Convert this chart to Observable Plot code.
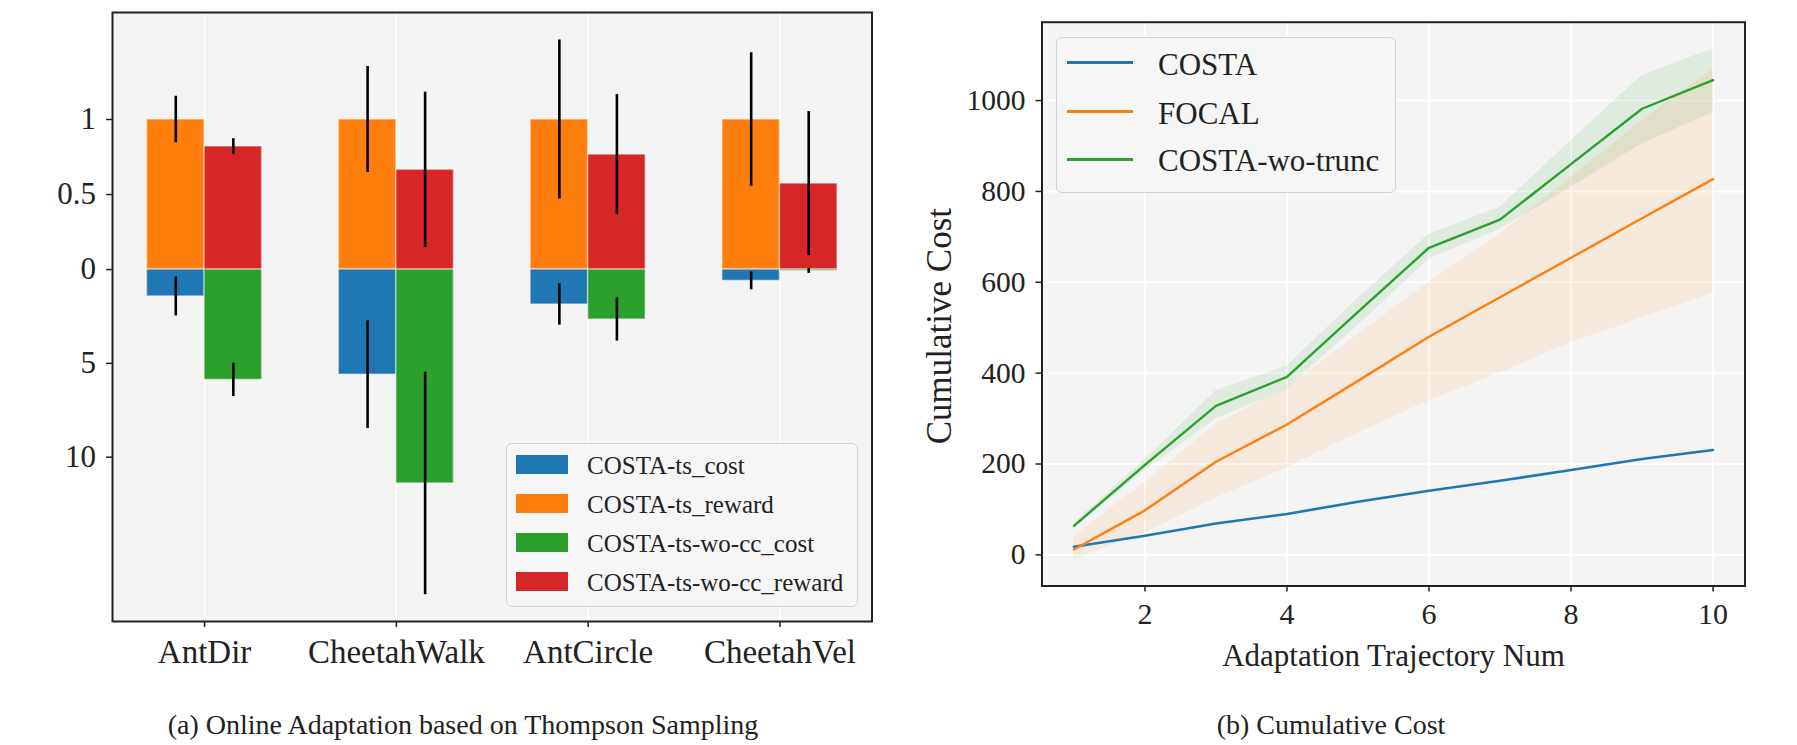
<!DOCTYPE html>
<html>
<head>
<meta charset="utf-8">
<script src="https://cdn.jsdelivr.net/npm/d3@7"></script>
<script src="https://cdn.jsdelivr.net/npm/@observablehq/plot@0.6"></script>
<style>
  html, body { margin: 0; padding: 0; background: #ffffff; }
  #root { position: relative; width: 1797px; height: 745px; overflow: hidden; background: #fff;
          font-family: "Liberation Serif", "Times New Roman", serif; color: #222; }
  .panel { position: absolute; top: 0; }
  .legend { position: absolute; box-sizing: border-box; border: 1.3px solid #d2d2d2; border-radius: 6px;
            background: rgba(246,246,246,0.85); }
  .lg-item { position: absolute; white-space: nowrap; font-family: "Liberation Serif", "Times New Roman", serif; }
  .caption { position: absolute; text-align: center; white-space: nowrap; font-size: 28px; color: #222;
             font-family: "Liberation Serif", "Times New Roman", serif; }
</style>
</head>
<body>
<div id="root"></div>
<script>
// ---------------- data: panel (a) ----------------
const categories = ["AntDir", "CheetahWalk", "AntCircle", "CheetahVel"];
const tsCost        = [1.43, 5.6, 1.86, 0.6];
const tsCostErr     = [1.04, 2.87, 1.1, 0.48];
const tsReward      = [1.0, 1.0, 1.0, 1.0];
const tsRewardErr   = [0.155, 0.353, 0.53, 0.445];
const wocCost       = [5.88, 11.4, 2.66, 0.07];
const wocCostErr    = [0.89, 5.93, 1.15, 0.13];
const wocReward     = [0.82, 0.665, 0.766, 0.573];
const wocRewardErr  = [0.052, 0.517, 0.4, 0.48];
const barSeries     = ["COSTA-ts_cost", "COSTA-ts_reward", "COSTA-ts-wo-cc_cost", "COSTA-ts-wo-cc_reward"];
const rewardTicks   = [0, 0.5, 1];
const costTicks     = [5, 10];

// ---------------- data: panel (b) ----------------
const trajNum   = [1, 2, 3, 4, 5, 6, 7, 8, 9, 10];
const costaMean = [18, 42, 69, 90, 117, 141, 163, 187, 211, 231];
const focalMean = [12, 98, 205, 287, 383, 480, 567, 654, 741, 827];
const focalLow  = [-10, 48, 126, 192, 268, 339, 401, 467, 522, 577];
const focalHigh = [40, 160, 288, 368, 485, 600, 706, 831, 956, 1070];
const woMean    = [64, 198, 328, 392, 535, 676, 738, 860, 982, 1045];
const woLow     = [58, 186, 299, 365, 505, 651, 717, 809, 905, 974];
const woHigh    = [70, 210, 361, 416, 565, 706, 765, 912, 1055, 1114];
const lineSeries = ["COSTA", "FOCAL", "COSTA-wo-trunc"];
const xTicksB   = [2, 4, 6, 8, 10];
const yTicksB   = [0, 200, 400, 600, 800, 1000];

// ---------------- styling ----------------
const C = { blue: "#1f77b4", orange: "#ff7f0e", green: "#2ca02c", red: "#d62728" };
const FONT = "'Liberation Serif', 'Times New Roman', serif";
const BG = "#f4f4f4";
const COST_SCALE = 0.125;   // cost units drawn below zero, 8 cost = 1 reward unit
const BAR_W = 0.3;

const root = document.getElementById("root");

// ---------------- panel (a) ----------------
const bars = [];
categories.forEach((c, i) => {
  bars.push({ i, side: -1, y: tsReward[i], e: tsRewardErr[i], fill: C.orange });
  bars.push({ i, side: -1, y: -tsCost[i] * COST_SCALE, e: tsCostErr[i] * COST_SCALE, fill: C.blue });
  bars.push({ i, side: 1, y: wocReward[i], e: wocRewardErr[i], fill: C.red });
  bars.push({ i, side: 1, y: -wocCost[i] * COST_SCALE, e: wocCostErr[i] * COST_SCALE, fill: C.green });
});
const yTickMap = new Map();
rewardTicks.forEach(v => yTickMap.set(v, String(v)));
costTicks.forEach(v => yTickMap.set(-v * COST_SCALE, String(v)));

const plotA = Plot.plot({
  width: 900, height: 700,
  marginLeft: 112, marginRight: 28.5, marginTop: 12, marginBottom: 79,
  style: { fontFamily: FONT, background: "transparent", overflow: "visible", color: "#222" },
  x: { domain: [-0.48, 3.48] },
  y: { domain: [-2.345, 1.713] },
  color: { type: "identity" },
  marks: [
    Plot.frame({ fill: BG, stroke: "none" }),
    Plot.gridX({ ticks: [0, 1, 2, 3], stroke: "#ffffff", strokeOpacity: 0.9, strokeWidth: 1.5 }),
    Plot.rect(bars, {
      x1: d => d.side < 0 ? d.i - BAR_W : d.i,
      x2: d => d.side < 0 ? d.i : d.i + BAR_W,
      y1: 0, y2: d => d.y, fill: d => d.fill,
      stroke: "#ffffff", strokeOpacity: 0.45, strokeWidth: 1.5
    }),
    Plot.ruleX(bars, {
      x: d => d.i + d.side * BAR_W / 2,
      y1: d => d.y - d.e, y2: d => d.y + d.e,
      stroke: "#000", strokeWidth: 2.6
    }),
    Plot.axisX({ ticks: [0, 1, 2, 3], tickFormat: d => categories[d], fontSize: 33,
                 tickSize: 6, tickPadding: 12.5, label: null, strokeWidth: 1.5 }),
    Plot.axisY({ ticks: [...yTickMap.keys()], tickFormat: d => yTickMap.get(d), fontSize: 31,
                 tickSize: 6, tickPadding: 10.5, label: null, strokeWidth: 1.5 }),
    Plot.frame({ stroke: "#222", strokeWidth: 2 })
  ]
});
plotA.classList.add("panel");
plotA.style.left = "0px";
root.appendChild(plotA);

// ---------------- panel (b) ----------------
const plotB = Plot.plot({
  width: 897, height: 700,
  marginLeft: 141.5, marginRight: 52.5, marginTop: 21.7, marginBottom: 114.5,
  style: { fontFamily: FONT, background: "transparent", overflow: "visible", color: "#222" },
  x: { domain: [0.55, 10.45] },
  y: { domain: [-68.5, 1172.5] },
  marks: [
    Plot.frame({ fill: BG, stroke: "none" }),
    Plot.gridX({ ticks: xTicksB, stroke: "#ffffff", strokeOpacity: 1, strokeWidth: 2 }),
    Plot.gridY({ ticks: yTicksB, stroke: "#ffffff", strokeOpacity: 1, strokeWidth: 2 }),
    Plot.areaY(trajNum, { x: d => d, y1: (d, i) => focalLow[i], y2: (d, i) => focalHigh[i],
                          fill: C.orange, fillOpacity: 0.1 }),
    Plot.areaY(trajNum, { x: d => d, y1: (d, i) => woLow[i], y2: (d, i) => woHigh[i],
                          fill: C.green, fillOpacity: 0.1 }),
    Plot.line(trajNum, { x: d => d, y: (d, i) => costaMean[i], stroke: C.blue, strokeWidth: 2.6 }),
    Plot.line(trajNum, { x: d => d, y: (d, i) => focalMean[i], stroke: C.orange, strokeWidth: 2.4 }),
    Plot.line(trajNum, { x: d => d, y: (d, i) => woMean[i], stroke: C.green, strokeWidth: 2.4 }),
    Plot.axisX({ ticks: xTicksB, tickFormat: d => String(d), fontSize: 30, tickSize: 6, tickPadding: 11,
                 label: null, strokeWidth: 1.5 }),
    Plot.axisY({ ticks: yTicksB, tickFormat: d => String(d), fontSize: 29.5, tickSize: 6, tickPadding: 10.5,
                 label: null, strokeWidth: 1.5 }),
    Plot.text(["Adaptation Trajectory Num"], { frameAnchor: "bottom", text: d => d, dy: 70,
                 textAnchor: "middle", lineAnchor: "middle", fontSize: 31, fill: "#222" }),
    Plot.text(["Cumulative Cost"], { frameAnchor: "left", text: d => d, dx: -102.5, dy: 22,
                 rotate: -90, textAnchor: "middle", lineAnchor: "middle", fontSize: 35, fill: "#222" }),
    Plot.frame({ stroke: "#222", strokeWidth: 2 })
  ]
});
plotB.classList.add("panel");
plotB.style.left = "900px";
root.appendChild(plotB);

// ---------------- legends ----------------
function addLegendBox(left, top, w, h) {
  const d = document.createElement("div");
  d.className = "legend";
  Object.assign(d.style, { left: left + "px", top: top + "px", width: w + "px", height: h + "px" });
  root.appendChild(d);
}
function addText(txt, left, cy, size) {
  const t = document.createElement("div");
  t.className = "lg-item";
  t.textContent = txt;
  Object.assign(t.style, { left: left + "px", top: (cy - size * 0.6) + "px", fontSize: size + "px",
                           lineHeight: (size * 1.2) + "px", color: "#222" });
  root.appendChild(t);
}
// legend (a)
addLegendBox(506, 443, 352, 164);
const swatchColors = [C.blue, C.orange, C.green, C.red];
const swatchY = [464.7, 503.7, 542.5, 581.5];
barSeries.forEach((name, k) => {
  const s = document.createElement("div");
  s.className = "lg-item";
  Object.assign(s.style, { left: "515.5px", top: (swatchY[k] - 9.5) + "px", width: "52px", height: "19px",
                           background: swatchColors[k] });
  root.appendChild(s);
  addText(name, 587, swatchY[k] + 1, 25);
});
// legend (b)
addLegendBox(1056, 37, 340, 156);
const lineColors = [C.blue, C.orange, C.green];
const lineY = [62.7, 111.7, 159.3];
lineSeries.forEach((name, k) => {
  const s = document.createElement("div");
  s.className = "lg-item";
  Object.assign(s.style, { left: "1067px", top: (lineY[k] - 1.5) + "px", width: "66px", height: "3px",
                           background: lineColors[k] });
  root.appendChild(s);
  addText(name, 1158, lineY[k] + 1.5, 31);
});

// ---------------- captions ----------------
function addCaption(txt, cx, cy) {
  const c = document.createElement("div");
  c.className = "caption";
  c.textContent = txt;
  Object.assign(c.style, { left: (cx - 400) + "px", width: "800px", top: (cy - 17) + "px", lineHeight: "34px" });
  root.appendChild(c);
}
addCaption("(a)  Online Adaptation based on Thompson Sampling", 463, 725);
addCaption("(b)  Cumulative Cost", 1331, 725);
</script>
</body>
</html>
